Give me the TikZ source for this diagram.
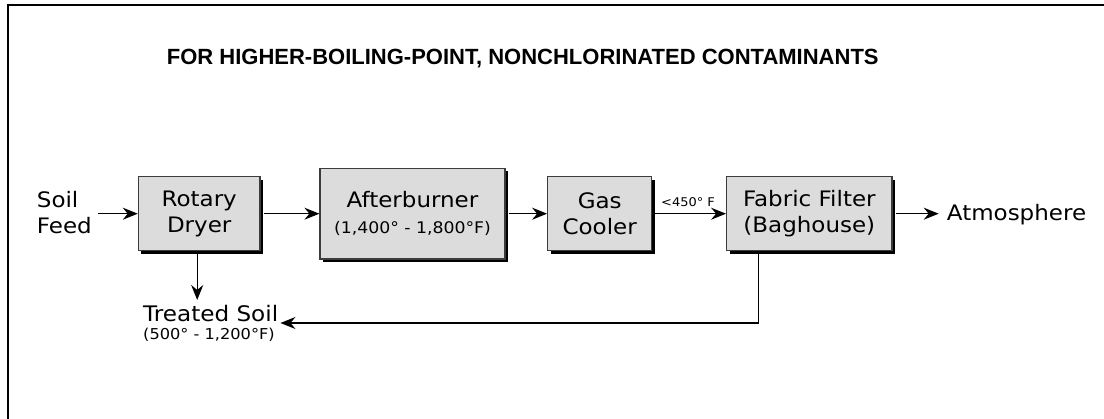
\documentclass[tikz,border=0pt]{standalone}
\usepackage{fontspec}
\setmainfont{DejaVu Sans}[FakeStretch=1.08]
\newfontfamily\dgTitleFont{Liberation Sans}
\usetikzlibrary{arrows.meta,shadows}
\newcommand\dgBig{\fontsize{21.3}{26}\selectfont}
\newcommand\dgMid{\fontsize{16}{20}\selectfont}
\newcommand\dgSmall{\fontsize{15}{18}\selectfont}
\newcommand\dgTiny{\fontsize{12}{14}\selectfont}
\definecolor{boxfill}{RGB}{220,220,220}
\definecolor{boxline}{RGB}{60,60,60}
\begin{document}
\begin{tikzpicture}[x=1pt,y=-1pt,
  box/.style={draw=boxline, line width=1.2pt, fill=boxfill, inner sep=0pt, align=center,
    font=\dgBig,
    drop shadow={shadow xshift=3pt, shadow yshift=-3pt, fill=black, opacity=1}},
  arr/.style={-{Stealth[length=15pt,width=12pt,inset=5pt]}, line width=1.1pt},
  lbl/.style={inner sep=0pt, font=\dgBig}]
\useasboundingbox (0,0) rectangle (1104,419);
% frame (top and left edges)
\draw[line width=2.2pt] (8,419) -- (8,5) -- (1104,5);
% title
\node[inner sep=0pt, anchor=base west, font={\dgTitleFont\bfseries\fontsize{22}{26}\selectfont}]
  (title) at (166.7,65) {FOR HIGHER-BOILING-POINT, NONCHLORINATED CONTAMINANTS};
% boxes
\node[box, minimum width=121.7pt, minimum height=74pt] (rot) at (199.2,213.7) {Rotary\\Dryer};
\node[box, minimum width=185pt, minimum height=90.7pt] (aft) at (412.5,213.7)
  {Afterburner\\{\dgMid (1,400° - 1,800°F)}};
\node[box, minimum width=104pt, minimum height=74pt] (gas) at (599.7,213.7) {Gas\\Cooler};
\node[box, minimum width=165.3pt, minimum height=74pt] (fab) at (809.3,213.7) {Fabric Filter\\(Baghouse)};
% labels
\node[lbl, align=left, anchor=west] (soil) at (36.7,212.5) {Soil\\Feed};
\node[lbl, anchor=base west] (atm) at (946.7,221) {Atmosphere};
\node[inner sep=0pt, anchor=base west, font=\dgTiny] (t450) at (661,206.7) {<450° F};
\node[lbl, anchor=base west, font=\fontsize{21.4}{24}\selectfont] (treated) at (143,322) {Treated Soil};
\node[inner sep=0pt, anchor=base west, font=\dgSmall] (ttemp) at (143,340) {(500° - 1,200°F)};
% connectors
\draw[arr] ([xshift=6pt]soil.east |- rot.west) -- (rot.west);
\draw[arr] ([xshift=3pt]rot.east) -- (aft.west);
\draw[arr] ([xshift=3pt]aft.east) -- (gas.west);
\draw[arr] ([xshift=3pt]gas.east) -- (fab.west);
\draw[arr] ([xshift=3pt]fab.east) -- ([xshift=-8pt]atm.west |- fab.east);
\draw[arr] ([xshift=-2pt,yshift=-3pt]rot.south) -- ([xshift=-2pt]rot.south |- 0,300);
\draw[arr] ([xshift=-50.6pt]fab.south) |- ([xshift=2pt,yshift=-1pt]treated.base east);
\end{tikzpicture}
\end{document}
